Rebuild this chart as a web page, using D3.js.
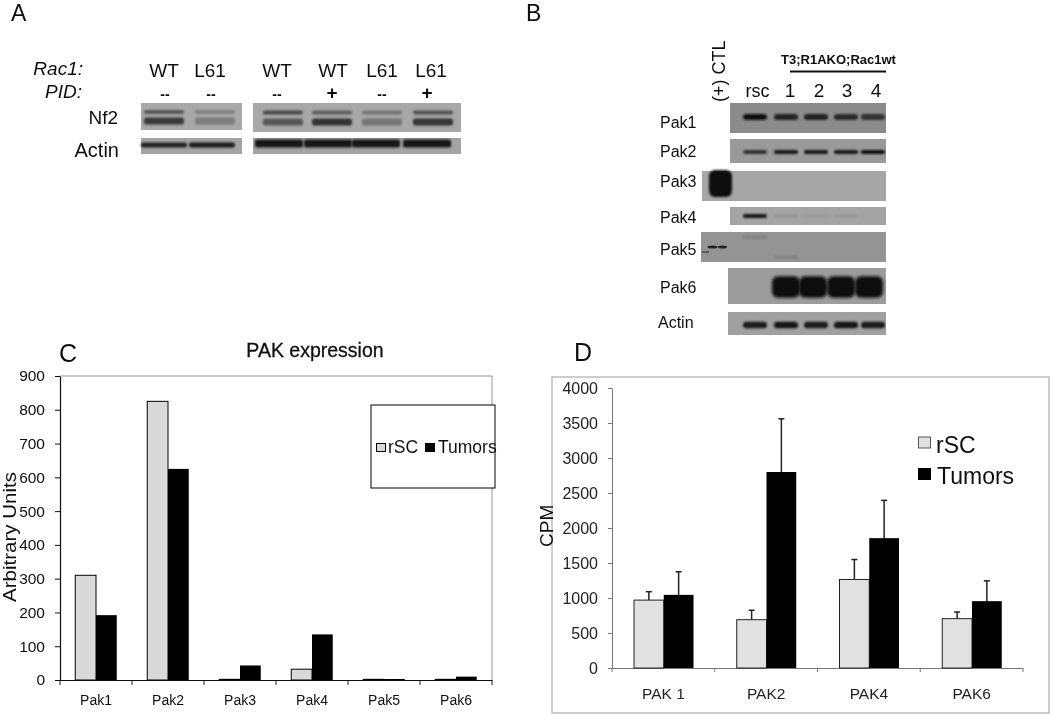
<!DOCTYPE html>
<html><head><meta charset="utf-8">
<script src="https://cdnjs.cloudflare.com/ajax/libs/d3/7.8.5/d3.min.js"></script>
<style>
html,body{margin:0;padding:0;background:#fff}
svg{display:block}
text{font-family:"Liberation Sans",Arial,sans-serif;fill:#111}
</style></head><body>
<svg id="c" width="1050" height="714"></svg>
<script>
// ---- Panel C data
const catsC = ["Pak1","Pak2","Pak3","Pak4","Pak5","Pak6"];
const rscC = [310,825,2,32,2,2];
const tumorsC = [192,625,43,135,3,10];
const ticksC = [0,100,200,300,400,500,600,700,800,900];
// ---- Panel D data
const catsD = ["PAK 1","PAK2","PAK4","PAK6"];
const rscD = [970,690,1265,705];
const tumorsD = [1045,2800,1855,955];
const rscTopD = [1090,825,1550,800];
const tumorsTopD = [1375,3560,2395,1245];
const ticksD = [0,500,1000,1500,2000,2500,3000,3500,4000];
// ---- Blot band intensities (0-1)
const lanesA1 = ["WT","L61"];
const lanesA2 = ["WT","WT","L61","L61"];
const pidA1 = ["--","--"];
const pidA2 = ["--","+","--","+"];
const nf2TopA1 = [.5,.2], nf2LowA1 = [.68,.25];
const nf2TopA2 = [.6,.45,.3,.55], nf2LowA2 = [.5,.75,.3,.72];
const actinA1 = [.85,.9], actinA2 = [.95,.95,.95,.95];
const lanesB = ["rsc","1","2","3","4"];
const blotsB = [
 {name:"Pak1", v:[1,.85,.85,.8,.75], h:4.5, bg:"#8b8b8b"},
 {name:"Pak2", v:[.75,.95,.95,.95,1], h:3, bg:"#9a9a9a"},
 {name:"Pak3", v:[0,0,0,0,0], h:3, bg:"#a6a6a6"},
 {name:"Pak4", v:[.95,.06,.04,.05,0], h:3, bg:"#a4a4a4"},
 {name:"Pak5", v:[.2,.2,0,0,0], h:2.5, bg:"#949494"},
 {name:"Pak6", v:[0,1,1,1,1], h:16, bg:"#9c9c9c"},
 {name:"Actin", v:[.9,.95,.9,.95,.9], h:5, bg:"#a0a0a0"}
];

const svg = d3.select("#c");
const defs = svg.append("defs");
[["b1",0.8],["b2",1.5],["b4",3]].forEach(([id,s])=>{
  defs.append("filter").attr("id",id).attr("x","-30%").attr("y","-100%").attr("width","160%").attr("height","300%")
   .append("feGaussianBlur").attr("stdDeviation",s);
});
const soft = defs.append("filter").attr("id","soft");
soft.append("feGaussianBlur").attr("stdDeviation",0.35);
const txt = (g,x,y,s,size,o={})=> g.append("text").attr("x",x).attr("y",y).attr("font-size",size)
  .attr("text-anchor",o.a||"start").attr("font-weight",o.w||"normal").attr("font-style",o.i?"italic":"normal")
  .attr("transform",o.r?`rotate(${o.r} ${x} ${y})`:null).text(s);
const dark = d3.scaleLinear().domain([0,1]).range(["#a0a0a0","#0c0c0c"]);

// ---------- Panel letters
const root = svg.append("g").attr("filter","url(#soft)");
txt(root,11,21,"A",23); txt(root,526,21,"B",23); txt(root,59,362,"C",25); txt(root,574,361,"D",25);

// ---------- Panel A
const A = root.append("g");
txt(A,83,75,"Rac1:",19,{a:"end",i:true}); txt(A,82,98,"PID:",19,{a:"end",i:true});
txt(A,118,124,"Nf2",19,{a:"end"}); txt(A,119,157,"Actin",20,{a:"end"});
const xA1c = i => [164,215][i];
const xA2c = i => [283,332,382,433][i];
function bandsA(cx,w,vals,y,h){
  A.selectAll(null).data(vals).join("rect")
   .attr("x",(d,i)=>cx(i)-w).attr("y",y-h).attr("width",w*2).attr("height",h*2).attr("rx",2)
   .attr("fill",d=>dark(d)).attr("filter","url(#b1)");
}
[[141,242],[253,461]].forEach(([a,b])=>{
  A.append("rect").attr("x",a).attr("y",103).attr("width",b-a).attr("height",b>300?29:27).attr("fill","#a8a8a8");
  A.append("rect").attr("x",a).attr("y",138).attr("width",b-a).attr("height",16).attr("fill","#a4a4a4");
});
bandsA(xA1c,20,nf2TopA1,112,2);
bandsA(xA1c,20,nf2LowA1,121,3.5);
bandsA(xA2c,20,nf2TopA2,112.5,2);
bandsA(xA2c,20,nf2LowA2,122,3.5);
const xA1b = i => [164,212][i], xA2b = i => [279,328,376,427][i];
bandsA(xA1b,23,actinA1,145,2.5);
bandsA(xA2b,24,actinA2,143.5,4);
lanesA1.forEach((s,i)=>{txt(A,[164,210][i],77,s,19,{a:"middle"});txt(A,[165,211][i],99,pidA1[i],14,{a:"middle",w:"bold"});});
lanesA2.forEach((s,i)=>{txt(A,[277,333,382,431][i],77,s,19,{a:"middle"});txt(A,[277,332,382,427][i],99,pidA2[i],i%2?19:14,{a:"middle",w:"bold"});});

// ---------- Panel B
const B = root.append("g");
const laneX = d3.scaleOrdinal().domain(lanesB).range([755,786,813,841,869]);
const laneLabelX = d3.scaleOrdinal().domain(lanesB).range([757.5,790,819,847,876]);
const boxes = {Pak1:[730,103,30],Pak2:[730,139,24],Pak3:[702,171,30],Pak4:[730,207,18],Pak5:[701,232,30],Pak6:[728,268,36],Actin:[728,312,23]};
const bandY = {Pak1:117,Pak2:152,Pak3:186,Pak4:216,Pak5:247,Pak6:287,Actin:325};
const labelY = {Pak1:128,Pak2:157,Pak3:187,Pak4:223,Pak5:255,Pak6:293,Actin:328};
blotsB.forEach(bl=>{
  const [x,y,h]=boxes[bl.name];
  B.append("rect").attr("x",x).attr("y",y).attr("width",886-x).attr("height",h).attr("fill",bl.bg);
  const clip = "clip"+bl.name;
  defs.append("clipPath").attr("id",clip).append("rect").attr("x",x).attr("y",y).attr("width",886-x).attr("height",h);
  const rx = bl.name=="Pak6"?14:12, ry = bl.h/1.5;
  const shift = l => (bl.name=="Pak6"?0:{rsc:0,"1":0,"2":3,"3":5,"4":4}[l]);
  B.append("g").attr("clip-path",`url(#${clip})`).selectAll("rect").data(lanesB.map((l,i)=>({l,v:bl.v[i]})).filter(d=>d.v>0))
   .join("rect").attr("x",d=>laneX(d.l)+shift(d.l)-rx).attr("width",2*rx)
   .attr("y",d=>(bl.name=="Pak5"?(d.l=="rsc"?237:257):bandY[bl.name])-ry).attr("height",2*ry)
   .attr("rx",bl.name=="Pak6"?6:ry)
   .attr("fill",d=>dark(d.v)).attr("filter",bl.name=="Pak6"?"url(#b2)":"url(#b1)");
  txt(B,bl.name=="Actin"?658:660,labelY[bl.name],bl.name,16);
});
// Pak3 positive control blob and Pak5 control bands
B.append("rect").attr("x",709).attr("y",170).attr("width",23).attr("height",27).attr("rx",6).attr("fill","#111").attr("filter","url(#b1)");
B.append("ellipse").attr("cx",712.5).attr("cy",247).attr("rx",5).attr("ry",1.5).attr("fill","#222");
B.append("ellipse").attr("cx",722.5).attr("cy",247).attr("rx",4.5).attr("ry",1.5).attr("fill","#222");
B.append("line").attr("x1",702).attr("x2",709).attr("y1",252).attr("y2",252).attr("stroke","#222");
txt(B,838.5,64,"T3;R1AKO;Rac1wt",13,{a:"middle",w:"bold"});
B.append("line").attr("x1",790).attr("x2",886).attr("y1",71.5).attr("y2",71.5).attr("stroke","#111").attr("stroke-width",2);
lanesB.forEach(l=>txt(B,laneLabelX(l),97,l,l=="rsc"?18:19,{a:"middle"}));
txt(B,725,102,"(+) CTL",18,{r:-90});

// ---------- Panel C
const C = root.append("g");
const xC = d3.scaleBand().domain(catsC).range([60,492]);
const yC = d3.scaleLinear().domain([0,900]).range([680,376]);
const x2C = d3.scaleBand().domain(["rSC","Tumors"]).range([0,41.5]);
C.append("path").attr("d",`M60,${yC(900)}H492V680`).attr("fill","none").attr("stroke","#999").attr("stroke-width",1);
const gyC = C.append("g").attr("transform","translate(60,0)").call(d3.axisLeft(yC).tickValues(ticksC).tickSize(5).tickSizeOuter(0));
const gxC = C.append("g").attr("transform","translate(0,680)").call(d3.axisBottom(xC).tickSize(0));
C.selectAll(null).data(catsC).join("line").attr("x1",d=>xC(d)).attr("x2",d=>xC(d)).attr("y1",680).attr("y2",685).attr("stroke","#111");
C.append("line").attr("x1",492).attr("x2",492).attr("y1",680).attr("y2",685).attr("stroke","#111");
gyC.selectAll("text").attr("font-size",15.5).attr("x",-15).attr("font-family","Liberation Sans");
gxC.selectAll("text").attr("font-size",14).attr("dy",22).attr("font-family","Liberation Sans");
[gyC,gxC].forEach(g=>{g.selectAll("path,line").attr("stroke","#111");g.select(".domain").attr("stroke-width",1.2);g.selectAll("text").style("fill","#111");});
const barStyle=(s,f)=>s.attr("fill",f).attr("stroke","#000").attr("stroke-width",1);
catsC.forEach((c,i)=>{
  const off=xC(c)+(xC.bandwidth()-41.5)/2;
  barStyle(C.append("rect").attr("x",off+x2C("rSC")).attr("y",yC(rscC[i])).attr("width",x2C.bandwidth()).attr("height",680-yC(rscC[i])),"#d9d9d9");
  C.append("rect").attr("x",off+x2C("Tumors")).attr("y",yC(tumorsC[i])).attr("width",x2C.bandwidth()).attr("height",680-yC(tumorsC[i])).attr("fill","#000");
});
txt(C,315,357,"PAK expression",19.5,{a:"middle"}).attr("stroke","#111").attr("stroke-width",.3);
txt(C,16,602,"Arbitrary Units",17.5,{r:-90,a:"start"}).attr("textLength",130).attr("lengthAdjust","spacingAndGlyphs");
C.append("rect").attr("x",371).attr("y",405).attr("width",124).attr("height",83).attr("fill","#fff").attr("stroke","#000").attr("stroke-width",1);
barStyle(C.append("rect").attr("x",376.5).attr("y",443.5).attr("width",9).attr("height",8),"#d9d9d9");
C.append("rect").attr("x",425).attr("y",443).attr("width",10).attr("height",9).attr("fill","#000");
txt(C,388,453,"rSC",17.5); txt(C,438,453,"Tumors",17.5);

// ---------- Panel D
const D = root.append("g");
D.append("rect").attr("x",552).attr("y",377).attr("width",497).attr("height",336).attr("fill","#fff").attr("stroke","#bdbdbd").attr("stroke-width",1.5);
const xD = d3.scaleBand().domain(catsD).range([612,1023]);
const yD = d3.scaleLinear().domain([0,4000]).range([668,388]);
const x2D = d3.scaleBand().domain(["rSC","Tumors"]).range([0,59.5]);
const gyD = D.append("g").attr("transform","translate(612,0)").call(d3.axisLeft(yD).tickValues(ticksD).tickFormat(d3.format("d")).tickSize(4).tickSizeOuter(0));
const gxD = D.append("g").attr("transform","translate(0,668)").call(d3.axisBottom(xD).tickSize(0));
D.selectAll(null).data(catsD.concat("")).join("line").attr("x1",d=>d?xD(d):1023).attr("x2",d=>d?xD(d):1023).attr("y1",668).attr("y2",672).attr("stroke","#777");
gyD.selectAll("text").attr("font-size",16).attr("x",-14).attr("font-family","Liberation Sans");
gxD.selectAll("text").attr("font-size",15.5).attr("dy",27.5).attr("font-family","Liberation Sans");
[gyD,gxD].forEach(g=>{g.selectAll("path,line").attr("stroke","#777");g.selectAll("text").style("fill","#222");});
catsD.forEach((c,i)=>{
  const off=xD(c)+22;
  const xa=off+x2D("rSC"), xb=off+x2D("Tumors"), w=x2D.bandwidth();
  [[xa,rscTopD[i],rscD[i]],[xb,tumorsTopD[i],tumorsD[i]]].forEach(([x,t,v])=>{
    D.append("line").attr("x1",x+w/2).attr("x2",x+w/2).attr("y1",yD(t)).attr("y2",yD(v)).attr("stroke","#222").attr("stroke-width",1.5);
    D.append("line").attr("x1",x+w/2-3).attr("x2",x+w/2+3).attr("y1",yD(t)).attr("y2",yD(t)).attr("stroke","#222").attr("stroke-width",1.5);
  });
  D.append("rect").attr("x",xa).attr("y",yD(rscD[i])).attr("width",w).attr("height",668-yD(rscD[i])).attr("fill","#e1e1e1").attr("stroke","#222").attr("stroke-width",1);
  D.append("rect").attr("x",xb).attr("y",yD(tumorsD[i])).attr("width",w).attr("height",668-yD(tumorsD[i])).attr("fill","#000");
});
txt(D,553,547,"CPM",19,{r:-90});
D.append("rect").attr("x",918.5).attr("y",437).attr("width",12).attr("height",11).attr("fill","#e1e1e1").attr("stroke","#555");
D.append("rect").attr("x",918).attr("y",468).attr("width",13).attr("height",12).attr("fill","#000");
txt(D,936,453,"rSC",23); txt(D,937,484,"Tumors",23);
</script>
</body></html>
